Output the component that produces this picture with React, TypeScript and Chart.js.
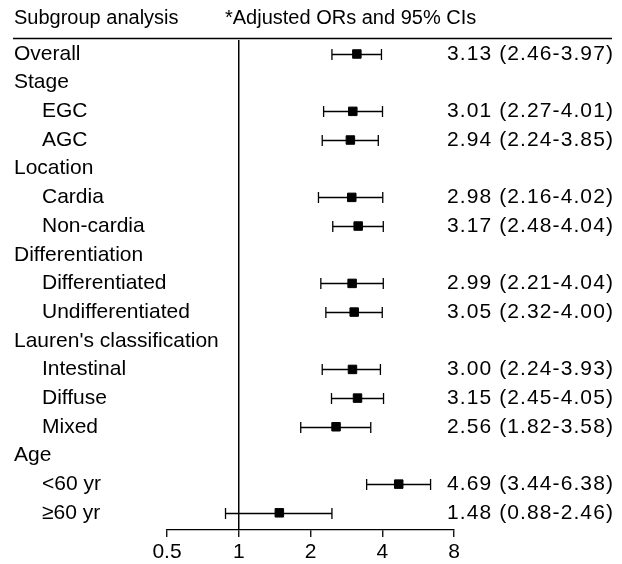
import React, { useEffect, useRef } from "react";
import { Chart, registerables } from "chart.js";

Chart.register(...registerables);

const rowLabels = [
  "Overall", "Stage", "EGC", "AGC", "Location", "Cardia", "Non-cardia",
  "Differentiation", "Differentiated", "Undifferentiated",
  "Lauren's classification", "Intestinal", "Diffuse", "Mixed",
  "Age", "<60 yr", "≥60 yr",
];
const rowIndent = [0, 0, 1, 1, 0, 1, 1, 0, 1, 1, 0, 1, 1, 1, 0, 1, 1];
const oddsRatios = [3.13, null, 3.01, 2.94, null, 2.98, 3.17, null, 2.99, 3.05, null, 3.0, 3.15, 2.56, null, 4.69, 1.48];
const ciLower = [2.46, null, 2.27, 2.24, null, 2.16, 2.48, null, 2.21, 2.32, null, 2.24, 2.45, 1.82, null, 3.44, 0.88];
const ciUpper = [3.97, null, 4.01, 3.85, null, 4.02, 4.04, null, 4.04, 4.0, null, 3.93, 4.05, 3.58, null, 6.38, 2.46];
const xTickValues = [0.5, 1, 2, 4, 8];
const headerLeft = "Subgroup analysis";
const headerRight = "*Adjusted ORs and 95% CIs";

const FONT = '"Liberation Sans", Arial, sans-serif';

export default function App() {
  const ref = useRef<HTMLCanvasElement | null>(null);
  useEffect(() => {
    if (!ref.current) return;
    const points = oddsRatios
      .map((v, i) => (v == null ? null : { x: v, y: i }))
      .filter((p) => p !== null) as { x: number; y: number }[];

    const forestPlugin = {
      id: "forest",
      beforeDatasetsDraw(chart: any) {
        const { ctx, scales } = chart;
        const xs = scales.x;
        const ys = scales.y;
        ctx.save();
        ctx.strokeStyle = "#000";
        ctx.lineWidth = 1.3;
        for (let i = 0; i < rowLabels.length; i++) {
          const lo = ciLower[i];
          const hi = ciUpper[i];
          if (lo == null || hi == null) continue;
          const y = Math.round(ys.getPixelForValue(i)) + 0.5;
          const x1 = xs.getPixelForValue(lo);
          const x2 = xs.getPixelForValue(hi);
          ctx.beginPath();
          ctx.moveTo(x1, y);
          ctx.lineTo(x2, y);
          ctx.moveTo(x1, y - 5.5);
          ctx.lineTo(x1, y + 5.5);
          ctx.moveTo(x2, y - 5.5);
          ctx.lineTo(x2, y + 5.5);
          ctx.stroke();
        }
        ctx.restore();
      },
      afterDraw(chart: any) {
        const { ctx, scales, width } = chart;
        const ys = scales.y;
        ctx.save();
        ctx.fillStyle = "#000";
        ctx.font = `20px ${FONT}`;
        ctx.textBaseline = "middle";
        // header
        ctx.textAlign = "left";
        ctx.fillText(headerLeft, 14, 18);
        ctx.fillText(headerRight, 225, 18);
        ctx.strokeStyle = "#000";
        ctx.lineWidth = 1.5;
        ctx.beginPath();
        ctx.moveTo(13, 38.5);
        ctx.lineTo(width - 10, 38.5);
        ctx.stroke();
        ctx.font = `21px ${FONT}`;
        for (let i = 0; i < rowLabels.length; i++) {
          const y = ys.getPixelForValue(i);
          ctx.textAlign = "left";
          (ctx as any).letterSpacing = "0px";
          ctx.fillText(rowLabels[i], rowIndent[i] ? 42 : 14, y);
          const v = oddsRatios[i];
          if (v != null) {
            ctx.textAlign = "right";
            (ctx as any).letterSpacing = "1.1px";
            const txt = `${v.toFixed(2)} (${(ciLower[i] as number).toFixed(2)}-${(ciUpper[i] as number).toFixed(2)})`;
            ctx.fillText(txt, 614, y);
          }
        }
        ctx.restore();
      },
    };

    const chart = new Chart(ref.current, {
      type: "scatter",
      data: {
        datasets: [
          {
            data: points,
            pointStyle: "rect",
            pointRadius: 6,
            pointHoverRadius: 6,
            backgroundColor: "#000",
            borderColor: "#000",
            borderWidth: 1,
            clip: false as any,
          },
        ],
      },
      options: {
        animation: false,
        responsive: false,
        events: [],
        layout: { padding: { left: 167, right: 168, top: 40, bottom: 0 } },
        plugins: { legend: { display: false }, tooltip: { enabled: false } },
        scales: {
          x: {
            type: "logarithmic",
            min: 0.5,
            max: 8,
            afterBuildTicks: (axis: any) => {
              axis.ticks = xTickValues.map((v) => ({ value: v }));
            },
            afterFit: (axis: any) => {
              axis.height = 34;
            },
            grid: {
              color: (c: any) => (c.tick && c.tick.value === 1 ? "#000" : "rgba(0,0,0,0)"),
              lineWidth: 1.5,
              tickColor: "#000",
              tickLength: 7,
              tickWidth: 1.3,
              drawTicks: true,
            },
            border: { display: true, color: "#000", width: 1.3 },
            ticks: {
              color: "#000",
              font: { family: FONT, size: 21, lineHeight: 1.1 },
              padding: 4,
              maxRotation: 0,
              autoSkip: false,
              callback: (v: any) => String(v),
            },
          },
          y: {
            type: "linear",
            display: false,
            reverse: true,
            min: -0.488,
            max: 16.6,
          },
        },
      },
      plugins: [forestPlugin],
    });
    return () => chart.destroy();
  }, []);

  return (
    <div style={{ position: "absolute", left: 0, top: 0, width: 622, height: 564, background: "#fff" }}>
      <canvas ref={ref} width={622} height={564} style={{ display: "block" }} />
    </div>
  );
}
